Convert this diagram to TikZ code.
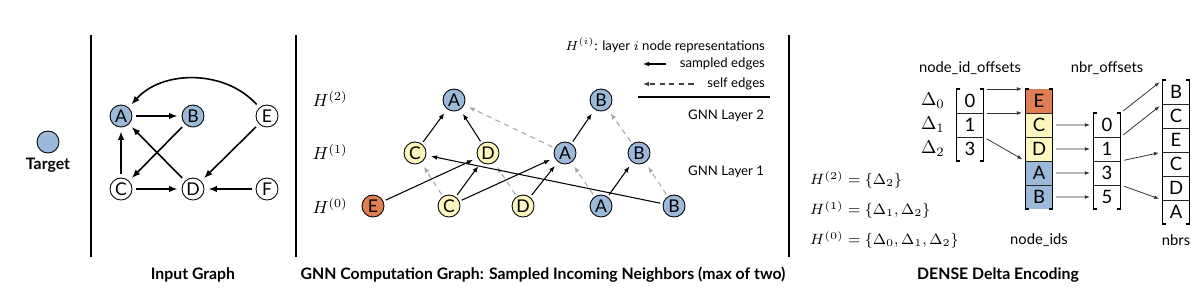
\documentclass[tikz,border=0pt]{standalone}
\usepackage{fix-cm}
\usepackage[no-math]{fontspec}
\setmainfont{Lato}
\usetikzlibrary{positioning, arrows.meta}
\definecolor{TargetBlue}{HTML}{9DB9D9}
\definecolor{NbrYellow}{HTML}{FDF6BE}
\definecolor{NbrOrange}{HTML}{E07D52}
\definecolor{SelfGray}{HTML}{A6A6A6}

\begin{document}
\begin{tikzpicture}[x=0.2mm, y=-0.2mm,
  vnode/.style={circle, draw=black, line width=0.5pt, minimum size=4.4mm,
                inner sep=0pt, font=\fontsize{10}{11}\selectfont},
  tgt/.style={vnode, fill=TargetBlue},
  nbr/.style={vnode, fill=NbrYellow},
  far/.style={vnode, fill=NbrOrange},
  garr/.style={-{Latex[length=1.7mm, width=1.3mm]}, line width=0.9pt,
               shorten >=0.8mm, shorten <=0.8mm},
  sarr/.style={-{Latex[length=1.2mm, width=0.95mm]}, line width=0.6pt,
               shorten >=1mm, shorten <=0.5mm},
  selfarr/.style={sarr, draw=SelfGray, dash pattern=on 3pt off 2.5pt},
  darr/.style={-{Latex[length=1mm, width=0.75mm]}, line width=0.45pt,
               draw=black!80, shorten >=0.7mm, shorten <=0.7mm},
  cell/.style={rectangle, minimum width=5.3mm, minimum height=4.66mm,
               inner sep=0pt, font=\fontsize{10.5}{12}\selectfont},
  divline/.style={line width=0.45pt, draw=black!85},
  brk/.style={line width=0.8pt},
  sepline/.style={line width=0.85pt},
  heading/.style={font=\fontsize{9}{11}\selectfont\bfseries},
  lbl/.style={font=\fontsize{8.4}{10}\selectfont},
  leg/.style={font=\fontsize{7.5}{9}\selectfont, inner sep=1pt}
]
\useasboundingbox (0,0) rectangle (1200,296);

\draw[sepline] (91,35) -- (91,257);
\draw[sepline] (296,35) -- (296,257);
\draw[sepline] (789,35) -- (789,257);

\node[tgt] (target) at (48,142) {};
\node[heading] (targetlbl) at (48,165) {Target};

\node[tgt]   (gA) at (121,116) {A};
\node[tgt]   (gB) at (193,116) {B};
\node[vnode] (gE) at (267,116) {E};
\node[vnode] (gC) at (121,189) {C};
\node[vnode] (gD) at (193,189) {D};
\node[vnode] (gF) at (267,189) {F};

\draw[garr] (gA) -- (gB);
\draw[garr] (gB) -- (gC);
\draw[garr] (gD) -- (gA);
\draw[garr] (gE) -- (gD);
\draw[garr] (gC) -- (gA);
\draw[garr] (gC) -- (gD);
\draw[garr] (gF) -- (gD);
\draw[garr] (gE) to[bend right=48] (gA);

\node (h2) at (330,99)  {$H^{(2)}$};
\node (h1) at (330,152) {$H^{(1)}$};
\node (h0) at (330,206) {$H^{(0)}$};

\node[tgt] (a2) at (454,100) {A};
\node[tgt] (b2) at (601,100) {B};
\node[nbr] (c1) at (415,153) {C};
\node[nbr] (d1) at (488,153) {D};
\node[tgt] (a1) at (565,153) {A};
\node[tgt] (b1) at (639,153) {B};
\node[far] (e0) at (373,206) {E};
\node[nbr] (c0) at (449,206) {C};
\node[nbr] (d0) at (523,206) {D};
\node[tgt] (a0) at (601,206) {A};
\node[tgt] (b0) at (674,206) {B};

\draw[sarr] (c1) -- (a2);
\draw[sarr] (d1) -- (a2);
\draw[selfarr] (a1) -- (a2);
\draw[sarr] (a1) -- (b2);
\draw[selfarr] (b1) -- (b2);
\draw[sarr] (e0) -- (d1);
\draw[selfarr] (c0) -- (c1);
\draw[sarr] (c0) -- (d1);
\draw[sarr] (c0) -- (a1);
\draw[selfarr] (d0) -- (d1);
\draw[sarr] (d0) -- (a1);
\draw[selfarr] (a0) -- (a1);
\draw[sarr] (a0) -- (b1);
\draw[selfarr] (b0) -- (b1);
\draw[sarr] (b0) -- (c1);

\node[leg, anchor=east] (legH) at (767,45) {$H^{(i)}$: layer $i$ node representations};
\node[leg, anchor=east] (legS) at (767,64) {sampled edges};
\node[leg, anchor=east] (legD) at (767,84) {self edges};
\coordinate (legSend) at (638,64);
\coordinate (legDend) at (638,84);
\draw[sarr] ([xshift=-1.8mm]legS.west) -- (legSend);
\draw[sarr, draw=black!75, dash pattern=on 3pt off 2.5pt] ([xshift=-1.8mm]legD.west) -- (legDend);
\draw[line width=0.6pt] (638,97) -- (770,97);
\node[leg, anchor=east] (lay2) at (766,116) {GNN Layer 2};
\node[leg, anchor=east] (lay1) at (766,172) {GNN Layer 1};

\node[lbl] (offlbl) at (970,68) {node\_id\_offsets};
\node[lbl] (noflbl) at (1107,68) {nbr\_offsets};

\node[cell] (off0) at (970,101) {0};
\node[cell, below=0pt of off0] (off1) {1};
\node[cell, below=0pt of off1] (off2) {3};

\node[cell, fill=NbrOrange] (ids0) at (1039,101) {E};
\node[cell, fill=NbrYellow, below=0pt of ids0] (ids1) {C};
\node[cell, fill=NbrYellow, below=0pt of ids1] (ids2) {D};
\node[cell, fill=TargetBlue, below=0pt of ids2] (ids3) {A};
\node[cell, fill=TargetBlue, below=0pt of ids3] (ids4) {B};

\node[cell] (nof0) at (1107,125) {0};
\node[cell, below=0pt of nof0] (nof1) {1};
\node[cell, below=0pt of nof1] (nof2) {3};
\node[cell, below=0pt of nof2] (nof3) {5};

\node[cell] (nbr0) at (1176,92) {B};
\node[cell, below=0pt of nbr0] (nbr1) {C};
\node[cell, below=0pt of nbr1] (nbr2) {E};
\node[cell, below=0pt of nbr2] (nbr3) {C};
\node[cell, below=0pt of nbr3] (nbr4) {D};
\node[cell, below=0pt of nbr4] (nbr5) {A};

\foreach \c in {off0,off1,ids0,ids1,ids2,ids3,nof0,nof1,nof2,nbr0,nbr1,nbr2,nbr3,nbr4}
  \draw[divline] (\c.south west) -- (\c.south east);
\foreach \a/\b in {off0/off2, ids0/ids4, nof0/nof3, nbr0/nbr5} {
  \draw[brk] ([xshift=0.8mm]\a.north west) -- (\a.north west) -- (\b.south west) -- ([xshift=0.8mm]\b.south west);
  \draw[brk] ([xshift=-0.8mm]\a.north east) -- (\a.north east) -- (\b.south east) -- ([xshift=-0.8mm]\b.south east);
}

\node[left=1.1mm of off0, font=\fontsize{10.5}{12}\selectfont] (dl0) {$\Delta_0$};
\node[left=1.1mm of off1, font=\fontsize{10.5}{12}\selectfont] (dl1) {$\Delta_1$};
\node[left=1.1mm of off2, font=\fontsize{10.5}{12}\selectfont] (dl2) {$\Delta_2$};

\draw[darr] (off0.north east) -- (ids0.north west);
\draw[darr] (off1.north east) -- (ids1.north west);
\draw[darr] (off2.north east) -- (ids3.north west);
\draw[darr] (ids1.east) -- (nof0.west);
\draw[darr] (ids2.east) -- (nof1.west);
\draw[darr] (ids3.east) -- (nof2.west);
\draw[darr] (ids4.east) -- (nof3.west);
\draw[darr] (nof0.north east) -- (nbr0.north west);
\draw[darr] (nof1.north east) -- (nbr1.north west);
\draw[darr] (nof2.north east) -- (nbr3.north west);
\draw[darr] (nof3.north east) -- (nbr5.north west);

\node[anchor=west, font=\fontsize{8.5}{10}\selectfont] (eq2) at (804,180) {$H^{(2)} = \{\Delta_2\}$};
\node[anchor=west, font=\fontsize{8.5}{10}\selectfont] (eq1) at (804,210) {$H^{(1)} = \{\Delta_1, \Delta_2\}$};
\node[anchor=west, font=\fontsize{8.5}{10}\selectfont] (eq0) at (804,240) {$H^{(0)} = \{\Delta_0, \Delta_1, \Delta_2\}$};

\node[lbl] (idslbl) at (1039,240) {node\_ids};
\node[lbl] (nbrlbl) at (1176,240) {nbrs};

\node[heading] (capIn)  at (193,275) {Input Graph};
\node[heading] (capGnn) at (543,275) {GNN Computation Graph: Sampled Incoming Neighbors (max of two)};
\node[heading] (capEnc) at (998,275) {DENSE Delta Encoding};
\end{tikzpicture}
\end{document}
